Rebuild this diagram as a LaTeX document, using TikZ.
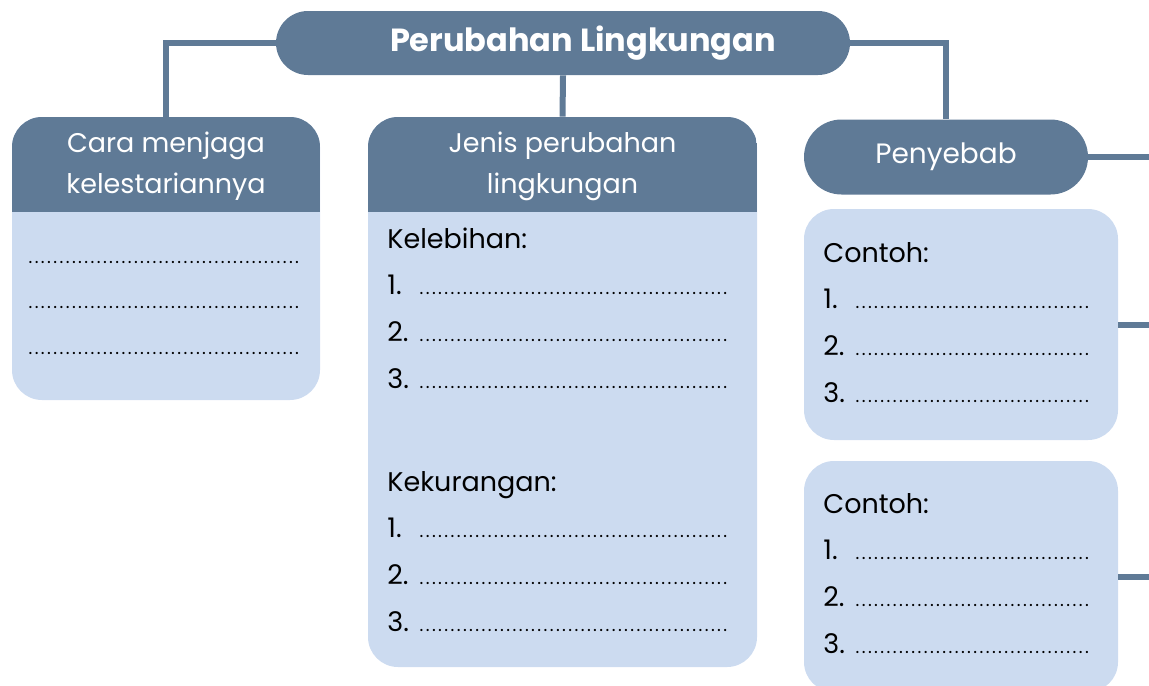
\documentclass[tikz,border=0pt]{standalone}
\usepackage{fontspec}
\setmainfont{Poppins}
\usetikzlibrary{positioning}
\definecolor{slate}{RGB}{95,122,150}
\definecolor{paleblue}{RGB}{204,219,240}
\newcommand{\dotrow}{\leaders\hbox to 3.1pt{\hss\fontsize{9}{9}\selectfont.\hss}\hfill\kern0pt}
\newcommand{\numrow}[1]{\makebox[15.5pt][l]{#1.}\dotrow}

\begin{document}
\begin{tikzpicture}[x=0.5pt,y=-0.5pt,
pill/.style={fill=slate,text=white,rounded corners=16pt,minimum height=32pt,inner sep=0pt},
card/.style={fill=paleblue,rounded corners=15pt,inner sep=0pt},
band/.style={path picture={\fill[slate,sharp corners] (path picture bounding box.north west) rectangle ([yshift=-47.5pt]path picture bounding box.north east);}},
hdr/.style={text=white,align=center,font=\fontsize{13.5}{20.5}\selectfont},
line/.style={text height=10pt,text depth=3pt,inner sep=0pt,align=left,font=\fontsize{13.5}{15}\selectfont},
link/.style={draw=slate,line width=3pt}]
\useasboundingbox (0,0) rectangle (1149,685);
% boxes
\node[pill,minimum width=287pt,font=\fontsize{16}{18}\selectfont\bfseries] (title) at (563,43) {\hspace*{20pt}Perubahan Lingkungan};
\node[card,band,minimum width=154pt,minimum height=141.5pt] (care) at (166,258.5) {};
\node[hdr] (careh) at (166,166) {Cara menjaga\\kelestariannya};
\node[card,band,minimum width=194.5pt,minimum height=275pt] (kind) at (562.5,392) {};
\node[hdr] (kindh) at (562.5,166) {Jenis perubahan\\lingkungan};
\node[pill,minimum width=142pt,minimum height=37.5pt,rounded corners=18.75pt,font=\fontsize{14}{16}\selectfont] (cause) at (946,157) {Penyebab};
\node[card,minimum width=157pt,minimum height=115.5pt] (ex1) at (961,324.5) {};
\node[card,minimum width=157pt,minimum height=115.5pt] (ex2) at (961,576.5) {};
% lines to fill in
\node[line,text width=137.5pt,anchor=base west] (c1) at (27,263) {\dotrow};
\node[line,text width=137.5pt,below=9.5pt of c1] (c2) {\dotrow};
\node[line,text width=137.5pt,below=9.5pt of c2] (c3) {\dotrow};
\node[line,text width=172.5pt,anchor=base west] (plus) at (387,248) {Kelebihan:};
\node[line,text width=172.5pt,below=10pt of plus] (p1) {\numrow{1}};
\node[line,text width=172.5pt,below=10pt of p1] (p2) {\numrow{2}};
\node[line,text width=172.5pt,below=10pt of p2] (p3) {\numrow{3}};
\node[line,text width=172.5pt,anchor=base west] (minus) at (387,491) {Kekurangan:};
\node[line,text width=172.5pt,below=10pt of minus] (m1) {\numrow{1}};
\node[line,text width=172.5pt,below=10pt of m1] (m2) {\numrow{2}};
\node[line,text width=172.5pt,below=10pt of m2] (m3) {\numrow{3}};
\node[line,text width=134.5pt,anchor=base west] (ea) at (823,262) {Contoh:};
\node[line,text width=134.5pt,below=10pt of ea] (a1) {\numrow{1}};
\node[line,text width=134.5pt,below=10pt of a1] (a2) {\numrow{2}};
\node[line,text width=134.5pt,below=10pt of a2] (a3) {\numrow{3}};
\node[line,text width=134.5pt,anchor=base west] (eb) at (823,513) {Contoh:};
\node[line,text width=134.5pt,below=10pt of eb] (b1) {\numrow{1}};
\node[line,text width=134.5pt,below=10pt of b1] (b2) {\numrow{2}};
\node[line,text width=134.5pt,below=10pt of b2] (b3) {\numrow{3}};
% connectors
\coordinate (causeend) at (1152,157);
\coordinate (ex1end) at (1152,324.5);
\coordinate (ex2end) at (1152,576.5);
\draw[link] (title.west) -| (care.north);
\draw[link] (title.south) -- (kind.north);
\draw[link] (title.east) -| (cause.north);
\draw[link] (cause.east) -- (causeend);
\draw[link] (ex1.east) -- (ex1end);
\draw[link] (ex2.east) -- (ex2end);
\end{tikzpicture}
\end{document}
